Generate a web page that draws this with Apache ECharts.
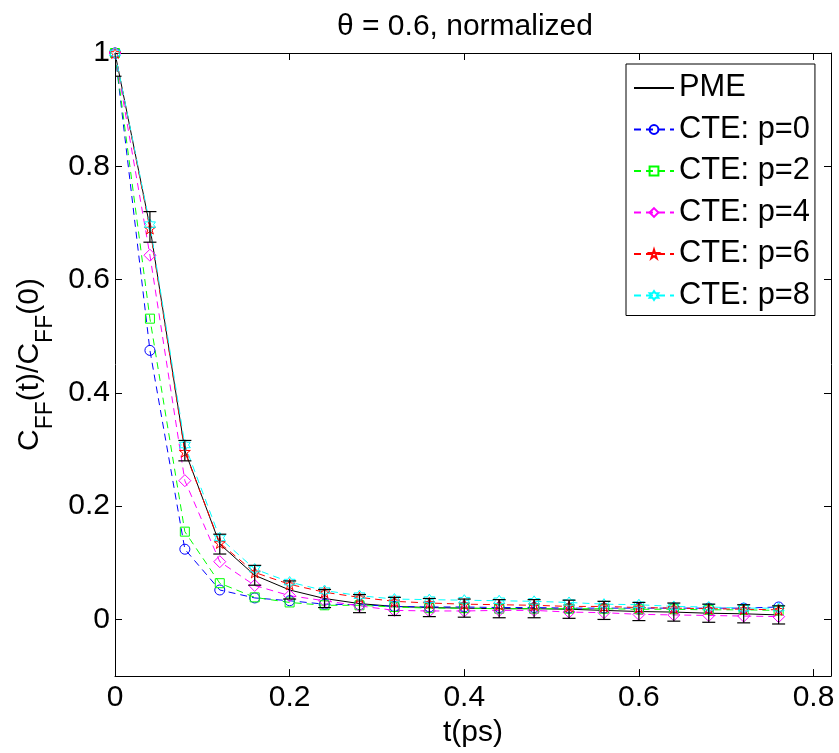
<!DOCTYPE html>
<html>
<head>
<meta charset="utf-8">
<script src="https://cdn.jsdelivr.net/npm/echarts@6/dist/echarts.min.js"></script>
<style>
html,body{margin:0;padding:0;background:#fff;}
#chart{width:839px;height:753px;}
</style>
</head>
<body>
<div id="chart"></div>
<script>
// ---- data ----
const tValues = [0, 0.04, 0.08, 0.12, 0.16, 0.20, 0.24, 0.28, 0.32, 0.36, 0.40, 0.44, 0.48, 0.52, 0.56, 0.60, 0.64, 0.68, 0.72, 0.76];
const pme    = [1.0, 0.693, 0.298, 0.133, 0.078, 0.052, 0.037, 0.028, 0.023, 0.021, 0.020, 0.019, 0.019, 0.018, 0.016, 0.014, 0.013, 0.011, 0.010, 0.008];
const pmeErr = [0.041, 0.027, 0.018, 0.0175, 0.0175, 0.016, 0.016, 0.016, 0.016, 0.016, 0.016, 0.016, 0.016, 0.016, 0.016, 0.016, 0.016, 0.016, 0.016, 0.016];
const cteP0  = [1.0, 0.475, 0.124, 0.052, 0.038, 0.033, 0.027, 0.026, 0.023, 0.022, 0.022, 0.021, 0.021, 0.020, 0.020, 0.020, 0.020, 0.020, 0.020, 0.022];
const cteP2  = [1.0, 0.531, 0.155, 0.064, 0.039, 0.030, 0.025, 0.025, 0.022, 0.020, 0.020, 0.019, 0.019, 0.019, 0.019, 0.018, 0.018, 0.017, 0.017, 0.016];
const cteP4  = [1.0, 0.643, 0.245, 0.102, 0.060, 0.042, 0.033, 0.024, 0.016, 0.015, 0.015, 0.016, 0.016, 0.013, 0.012, 0.009, 0.008, 0.007, 0.006, 0.005];
const cteP6  = [1.0, 0.690, 0.296, 0.135, 0.083, 0.062, 0.048, 0.039, 0.032, 0.029, 0.027, 0.026, 0.025, 0.023, 0.023, 0.021, 0.020, 0.019, 0.018, 0.017];
const cteP8  = [1.0, 0.697, 0.308, 0.144, 0.089, 0.066, 0.051, 0.042, 0.036, 0.035, 0.034, 0.033, 0.032, 0.030, 0.027, 0.026, 0.023, 0.022, 0.020, 0.020];
const seriesNames = ['PME', 'CTE: p=0', 'CTE: p=2', 'CTE: p=4', 'CTE: p=6', 'CTE: p=8'];
const xTicks = [0, 0.2, 0.4, 0.6, 0.8];
const yTicks = [0, 0.2, 0.4, 0.6, 0.8, 1];
const titleText = 'θ = 0.6, normalized';
const xName = 't(ps)';

// ---- styling ----
const FONT = '"Liberation Sans", Arial, Helvetica, sans-serif';
const pentagram = 'path://M0,-1 L0.2245,-0.309 L0.951,-0.309 L0.363,0.118 L0.588,0.809 L0,0.382 L-0.588,0.809 L-0.363,0.118 L-0.951,-0.309 L-0.2245,-0.309 Z';
const hexagram = 'path://M0,-1 L0.289,-0.5 L0.866,-0.5 L0.577,0 L0.866,0.5 L0.289,0.5 L0,1 L-0.289,0.5 L-0.866,0.5 L-0.577,0 L-0.866,-0.5 L-0.289,-0.5 Z';

const pair = arr => tValues.map((t, i) => [t, arr[i]]);

function cteSeries(name, arr, color, symbol, size) {
  return {
    type: 'line', name: name, data: pair(arr),
    symbol: symbol, symbolSize: size, showSymbol: true,
    lineStyle: { color: color, width: 1, type: [7, 5] },
    itemStyle: { color: 'rgba(0,0,0,0)', borderColor: color, borderWidth: 1 },
    z: 4, animation: false
  };
}

const axisCommon = {
  axisLine: { show: true, onZero: false, lineStyle: { color: '#000', width: 1 } },
  splitLine: { show: false }
};

const option = {
  animation: false,
  backgroundColor: '#fff',
  title: {
    text: titleText, left: 337, top: 12, padding: 0,
    textStyle: { fontFamily: FONT, fontSize: 30, fontWeight: 'normal', color: '#000', lineHeight: 30 }
  },
  grid: { left: 115, top: 53, right: 8, bottom: 72, containLabel: false },
  legend: {
    orient: 'vertical', left: 626, top: 64,
    data: [
      { name: 'PME', itemStyle: { color: 'rgba(0,0,0,0)', borderColor: 'rgba(0,0,0,0)', borderWidth: 0 } },
      'CTE: p=0', 'CTE: p=2', 'CTE: p=4', 'CTE: p=6', 'CTE: p=8'
    ],
    itemWidth: 40, itemHeight: 11, itemGap: 9.5,
    padding: [8, 5, 4, 7],
    backgroundColor: '#fff', borderColor: '#000', borderWidth: 1, borderRadius: 0,
    textStyle: { fontFamily: FONT, fontSize: 30.8, color: '#000', lineHeight: 32 },
    selectedMode: false
  },
  xAxis: [
    Object.assign({}, axisCommon, {
      type: 'value', min: 0, max: 0.82, position: 'bottom',
      name: xName, nameLocation: 'middle', nameGap: 38,
      nameTextStyle: { fontFamily: FONT, fontSize: 30, color: '#000' },
      axisTick: { show: true, inside: true, length: 7, lineStyle: { color: '#000' }, customValues: xTicks },
      axisLabel: { show: true, margin: 7, fontFamily: FONT, fontSize: 30, color: '#000', customValues: xTicks }
    }),
    Object.assign({}, axisCommon, {
      type: 'value', min: 0, max: 0.82, position: 'top',
      axisTick: { show: true, inside: true, length: 7, lineStyle: { color: '#000' }, customValues: xTicks },
      axisLabel: { show: false }
    })
  ],
  yAxis: [
    Object.assign({}, axisCommon, {
      type: 'value', min: -0.1, max: 1, position: 'left',
      name: '{m|C}{s|FF}{m|(t)/C}{s|FF}{m|(0)}',
      nameLocation: 'middle', nameRotate: 90, nameGap: 64,
      nameTextStyle: {
        fontFamily: FONT, color: '#000',
        rich: {
          m: { fontFamily: FONT, fontSize: 30, lineHeight: 30, verticalAlign: 'top', color: '#000' },
          s: { fontFamily: FONT, fontSize: 23, lineHeight: 23, verticalAlign: 'top', padding: [20, 0, 0, 0], color: '#000' }
        }
      },
      axisTick: { show: true, inside: true, length: 7, lineStyle: { color: '#000' }, customValues: yTicks },
      axisLabel: { show: true, margin: 5, fontFamily: FONT, fontSize: 30, color: '#000', customValues: yTicks }
    }),
    Object.assign({}, axisCommon, {
      type: 'value', min: -0.1, max: 1, position: 'right',
      axisTick: { show: true, inside: true, length: 7, lineStyle: { color: '#000' }, customValues: yTicks },
      axisLabel: { show: false }
    })
  ],
  series: [
    {
      type: 'line', name: 'PME', data: pair(pme),
      symbol: 'none', showSymbol: false,
      lineStyle: { color: '#000', width: 1, type: 'solid' },
      itemStyle: { color: '#000' },
      z: 3
    },
    {
      type: 'custom', name: 'PME error',
      data: tValues.map((t, i) => [t, pme[i], pmeErr[i]]),
      encode: { x: 0, y: 1 },
      clip: true, z: 5,
      renderItem: function (params, api) {
        const x = api.value(0), y = api.value(1), e = api.value(2);
        const top = api.coord([x, y + e]);
        const bot = api.coord([x, y - e]);
        const w = 6.5;
        const st = { stroke: '#000', lineWidth: 1.2 };
        return {
          type: 'group',
          children: [
            { type: 'line', shape: { x1: top[0], y1: top[1], x2: bot[0], y2: bot[1] }, style: st },
            { type: 'line', shape: { x1: top[0] - w, y1: top[1], x2: top[0] + w, y2: top[1] }, style: st },
            { type: 'line', shape: { x1: bot[0] - w, y1: bot[1], x2: bot[0] + w, y2: bot[1] }, style: st }
          ]
        };
      }
    },
    cteSeries('CTE: p=0', cteP0, '#0000ff', 'circle', 10),
    cteSeries('CTE: p=2', cteP2, '#00ff00', 'rect', 9),
    cteSeries('CTE: p=4', cteP4, '#ff00ff', 'diamond', 12),
    cteSeries('CTE: p=6', cteP6, '#ff0000', pentagram, 11),
    cteSeries('CTE: p=8', cteP8, '#00ffff', hexagram, 11)
  ]
};

const chart = echarts.init(document.getElementById('chart'), null, { renderer: 'canvas' });
chart.setOption(option);
</script>
</body>
</html>
